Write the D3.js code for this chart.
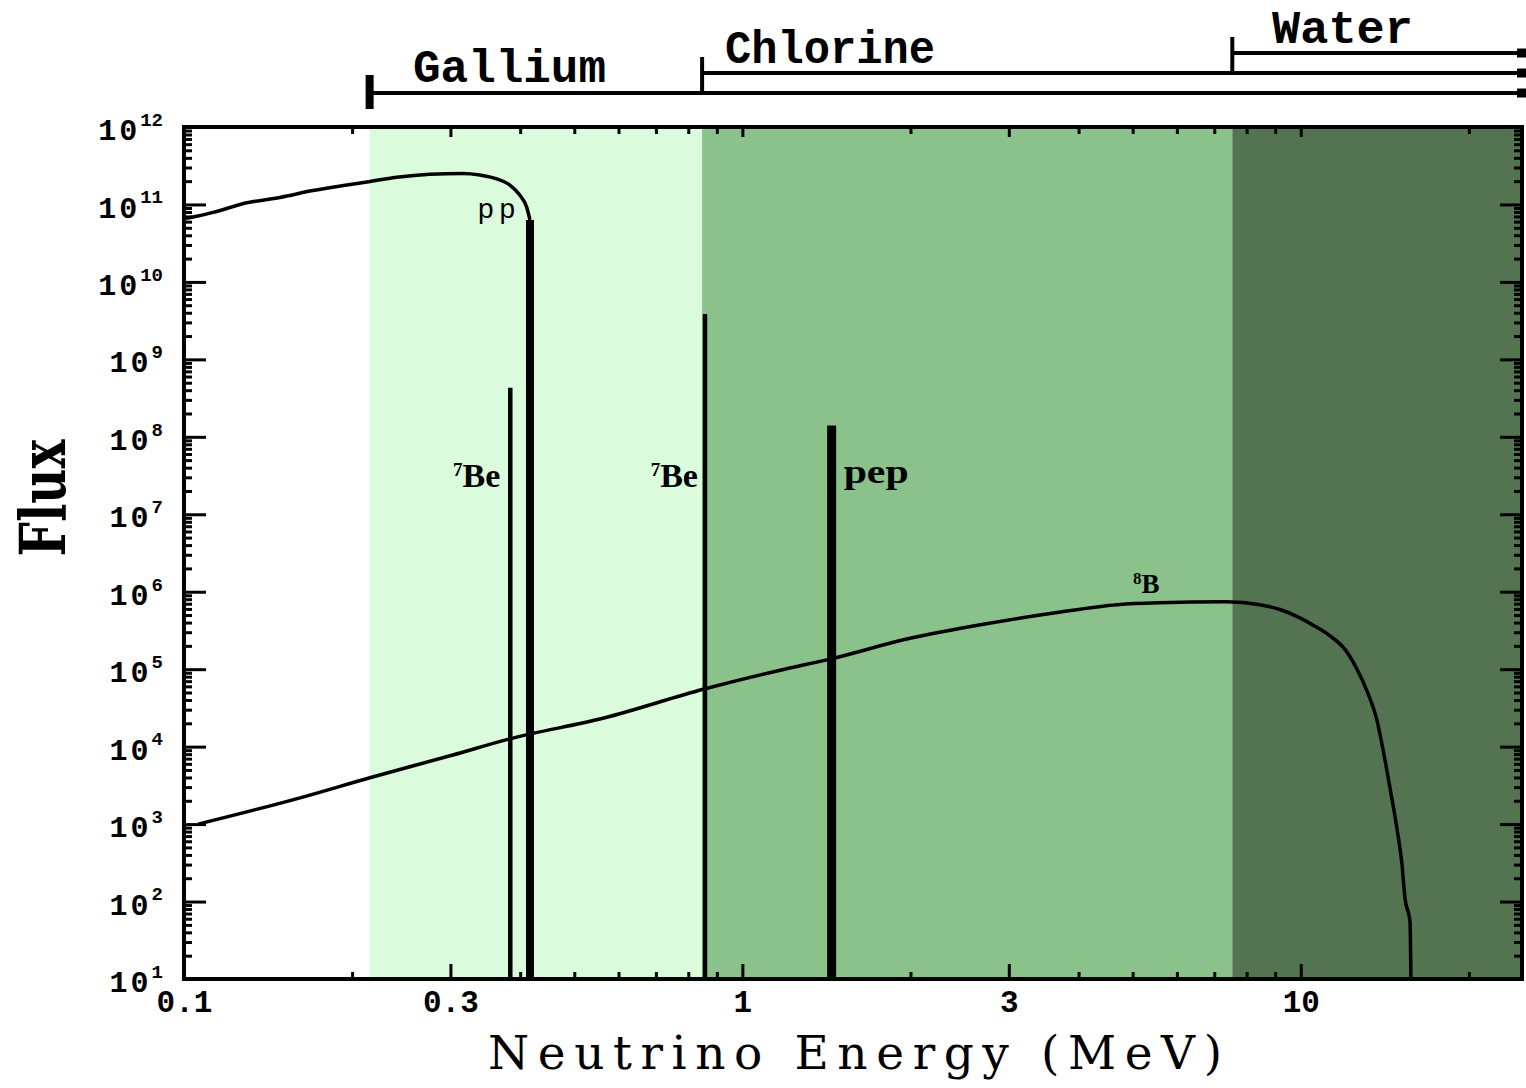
<!DOCTYPE html>
<html><head><meta charset="utf-8">
<script src="https://cdn.jsdelivr.net/npm/d3@7"></script>
<style>body{margin:0;background:#fff}svg{display:block}</style>
</head><body>
<svg id="chart" width="1526" height="1088"></svg>
<script>
// ---------- data ----------
const ppEnergy = [0.1, 0.1038, 0.1127, 0.1296, 0.1485, 0.1701, 0.1957, 0.2125, 0.2403, 0.2756, 0.3155, 0.3385, 0.3629, 0.3834, 0.3993, 0.4107, 0.4165];
const ppFlux   = [6.6e10, 6.9e10, 7.9e10, 1.05e11, 1.23e11, 1.51e11, 1.78e11, 1.95e11, 2.24e11, 2.45e11, 2.51e11, 2.40e11, 2.14e11, 1.78e11, 1.32e11, 9.3e10, 6.3e10];
const ppEndEnergy = 0.4165;
const ppEndFlux = 6.3e10;

const b8Energy = [0.106, 0.162, 0.216, 0.303, 0.383, 0.565, 0.851, 1.19, 1.437, 1.97, 2.70, 3.66, 4.69, 5.56, 7.35, 8.45, 9.18, 9.84, 10.52, 11.28, 12.0, 12.61, 13.19, 13.69, 14.04, 14.45, 14.87, 15.18, 15.37, 15.69, 15.75];
const b8Flux   = [1.0e3, 2.2e3, 4.0e3, 7.8e3, 1.26e4, 2.34e4, 5.5e4, 1.0e5, 1.35e5, 2.45e5, 3.8e5, 5.4e5, 6.8e5, 7.2e5, 7.4e5, 6.8e5, 5.9e5, 4.8e5, 3.7e5, 2.7e5, 1.8e5, 1.0e5, 4.9e4, 2.2e4, 9.1e3, 2.9e3, 8.7e2, 3.0e2, 1.1e2, 55, 10];

const lineNames  = ["Be", "Be", "pep"];
const lineEnergy = [0.384, 0.857, 1.445];
const lineFlux   = [4.3e8, 3.85e9, 1.4e8];

const detectorNames     = ["Gallium", "Chlorine", "Water"];
const detectorThreshold = [0.215, 0.847, 7.54];
const detectorColors    = ["#dafbdc", "#8bc18a", "#537351"];

const xTickValues = [0.1, 0.3, 1, 3, 10];
const xTickLabels = ["0.1", "0.3", "1", "3", "10"];
const yTickExponents = [12, 11, 10, 9, 8, 7, 6, 5, 4, 3, 2, 1];

// ---------- layout ----------
const L = 184, R = 1522, T = 127, B = 979;
const svg = d3.select("#chart");
const x = d3.scaleLog().domain([0.1, 24.9]).range([L, R]);
const y = d3.scaleLog().domain([10, 1e12]).range([B, T]);

// shaded detector regions
const edges = detectorThreshold.concat([24.9]);
svg.append("g").selectAll("rect").data(detectorThreshold).join("rect")
  .attr("x", d => x(d)).attr("y", T)
  .attr("width", (d, i) => x(edges[i + 1]) - x(d))
  .attr("height", B - T)
  .attr("fill", (d, i) => detectorColors[i]);

// curves
const line = d3.line().x(d => x(d[0])).y(d => y(d[1])).curve(d3.curveMonotoneX);
svg.append("path").datum(ppEnergy.map((e, i) => [e, ppFlux[i]]))
  .attr("d", line).attr("fill", "none").attr("stroke", "#000").attr("stroke-width", 3.5);
svg.append("path").datum(b8Energy.map((e, i) => [e, b8Flux[i]]))
  .attr("d", line).attr("fill", "none").attr("stroke", "#000").attr("stroke-width", 3.5);

// pp endpoint drop
svg.append("line").attr("x1", x(ppEndEnergy)).attr("x2", x(ppEndEnergy))
  .attr("y1", y(ppEndFlux)).attr("y2", B).attr("stroke", "#000").attr("stroke-width", 8);

// mono-energetic lines
const lineWidths = [4.5, 4.5, 9];
svg.append("g").selectAll("line").data(lineEnergy).join("line")
  .attr("x1", d => x(d)).attr("x2", d => x(d))
  .attr("y1", (d, i) => y(lineFlux[i])).attr("y2", B)
  .attr("stroke", "#000").attr("stroke-width", (d, i) => lineWidths[i]);

// ---------- axes ----------
function styleAxis(g) {
  g.select(".domain").remove();
  g.selectAll(".tick line").attr("stroke", "#000").attr("stroke-width", 3);
}
const xMinor = x.ticks().filter(v => !xTickValues.some(m => Math.abs(m - v) < 1e-9));
const yMajor = yTickExponents.map(e => Math.pow(10, e));
const yMinor = [];
for (let k = 1; k < 12; k++) for (let m = 2; m <= 9; m++) yMinor.push(m * Math.pow(10, k));

// bottom
svg.append("g").attr("transform", `translate(0,${B})`)
  .call(d3.axisBottom(x).tickValues(xMinor).tickSize(-7).tickFormat("")).call(styleAxis);
const xb = svg.append("g").attr("transform", `translate(0,${B})`)
  .call(d3.axisBottom(x).tickValues(xTickValues).tickSize(-15).tickPadding(11)
    .tickFormat((d, i) => xTickLabels[i])).call(styleAxis);
xb.selectAll("text").attr("font-family", "Liberation Mono, monospace").attr("font-weight", "bold")
  .attr("font-size", 31).attr("fill", "#000");
// top
svg.append("g").attr("transform", `translate(0,${T})`)
  .call(d3.axisTop(x).tickValues(xMinor).tickSize(-7).tickFormat("")).call(styleAxis);
svg.append("g").attr("transform", `translate(0,${T})`)
  .call(d3.axisTop(x).tickValues(xTickValues).tickSize(-10).tickFormat("")).call(styleAxis);
// left
svg.append("g").attr("transform", `translate(${L},0)`)
  .call(d3.axisLeft(y).tickValues(yMinor).tickSize(-8).tickFormat("")).call(styleAxis);
const yl = svg.append("g").attr("transform", `translate(${L},0)`)
  .call(d3.axisLeft(y).tickValues(yMajor).tickSize(-22).tickPadding(21).tickFormat(d => "10")).call(styleAxis);
yl.selectAll("text").each(function(d, i) {
  const t = d3.select(this);
  t.text(null).attr("font-family", "Liberation Mono, monospace").attr("font-weight", "bold")
    .attr("font-size", 30).attr("fill", "#000").attr("dy", "0.42em").attr("letter-spacing", 3);
  t.append("tspan").text("10");
  t.append("tspan").text(yTickExponents[i]).attr("font-size", 19).attr("dy", "-0.75em").attr("letter-spacing", 0);
});
// right
svg.append("g").attr("transform", `translate(${R},0)`)
  .call(d3.axisRight(y).tickValues(yMinor).tickSize(-8).tickFormat("")).call(styleAxis);
svg.append("g").attr("transform", `translate(${R},0)`)
  .call(d3.axisRight(y).tickValues(yMajor).tickSize(-22).tickFormat("")).call(styleAxis);

// frame
svg.append("rect").attr("x", L).attr("y", T).attr("width", R - L).attr("height", B - T)
  .attr("fill", "none").attr("stroke", "#000").attr("stroke-width", 4);

// ---------- detector brackets ----------
const bracketY = [93, 73, 53];
const bracketTickTop = [75, 57, 37];
const bracketTickBot = [109, 91, 73];
const bracketTickW = [8, 4, 4];
const br = svg.append("g");
detectorThreshold.forEach((e, i) => {
  br.append("line").attr("x1", x(e)).attr("x2", R).attr("y1", bracketY[i]).attr("y2", bracketY[i])
    .attr("stroke", "#000").attr("stroke-width", 4);
  br.append("line").attr("x1", x(e)).attr("x2", x(e)).attr("y1", bracketTickTop[i]).attr("y2", bracketTickBot[i])
    .attr("stroke", "#000").attr("stroke-width", bracketTickW[i]);
  br.append("rect").attr("x", R - 5).attr("y", bracketY[i] - 4.5).attr("width", 9).attr("height", 9).attr("fill", "#000");
});
const detLabelX = [413, 725, 1272];
const detLabelY = [82, 63, 43];
const detLabelLen = [193, 210, 141];
br.selectAll("text").data(detectorNames).join("text")
  .attr("x", (d, i) => detLabelX[i]).attr("y", (d, i) => detLabelY[i])
  .attr("textLength", (d, i) => detLabelLen[i]).attr("lengthAdjust", "spacingAndGlyphs")
  .attr("font-family", "Liberation Mono, monospace").attr("font-weight", "bold").attr("font-size", 46)
  .text(d => d);

// ---------- in-plot labels ----------
const lab = svg.append("g").attr("font-family", "Liberation Serif, serif").attr("font-weight", "bold").attr("fill", "#000");
// pp
svg.append("text").attr("x", 478).attr("y", 218).attr("font-family", "Liberation Sans, sans-serif")
  .attr("font-size", 28).attr("textLength", 37).attr("lengthAdjust", "spacing").text("pp");
function beLabel(xr, yb) {
  const t = lab.append("text").attr("x", xr).attr("y", yb).attr("text-anchor", "end");
  t.append("tspan").text("7").attr("font-size", 19).attr("dy", -11);
  t.append("tspan").text("Be").attr("font-size", 34).attr("dy", 11);
}
beLabel(x(lineEnergy[0]) - 10, 487);
beLabel(x(lineEnergy[1]) - 7, 487);
lab.append("text").attr("x", x(lineEnergy[2]) + 12).attr("y", 483).attr("font-size", 34)
  .attr("textLength", 65).attr("lengthAdjust", "spacingAndGlyphs").text("pep");
// 8B
const b8 = lab.append("text").attr("x", 1133).attr("y", 593);
b8.append("tspan").text("8").attr("font-size", 17).attr("dy", -9);
b8.append("tspan").text("B").attr("font-size", 27).attr("dy", 9);

// ---------- axis titles ----------
svg.append("text").attr("x", 488).attr("y", 1069)
  .attr("font-family", "DejaVu Serif, serif").attr("font-size", 47)
  .attr("textLength", 734).attr("lengthAdjust", "spacing").text("Neutrino Energy (MeV)");
svg.append("text").attr("transform", "translate(65,498) rotate(-90)").attr("text-anchor", "middle")
  .attr("font-family", "DejaVu Serif, serif").attr("font-weight", "bold").attr("font-size", 64)
  .attr("textLength", 117).attr("lengthAdjust", "spacingAndGlyphs").text("Flux");
</script>
</body></html>
